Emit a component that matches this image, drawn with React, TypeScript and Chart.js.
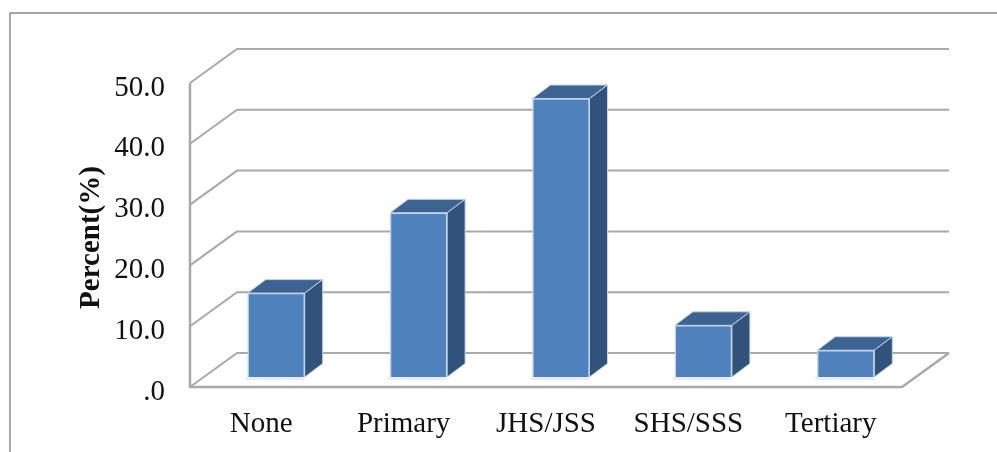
import React, { useEffect, useRef } from "react";
import { Chart, registerables } from "chart.js";

Chart.register(...registerables);

const categories = ["None", "Primary", "JHS/JSS", "SHS/SSS", "Tertiary"];
const percentValues = [13.8, 27.0, 45.8, 8.5, 4.4];
const axisTicks = [0, 10, 20, 30, 40, 50];
const axisTitle = "Percent(%)";

const SERIF = '"Liberation Serif", "Times New Roman", serif';
const INK = "#111";
const GRID = "#a9a9a9";
const FRONT = "#4f81bd";
const TOP = "#3c6391";
const SIDE = "#31527b";
const EDGE = "#c3d3e8";

// Perspective offsets of the floor and of each box
const WALL_DX = 47;
const WALL_DY = 34;
const BAR_DX = 15;
const BAR_DY = 10;
const DEPTH_DX = 18;
const DEPTH_DY = 13.5;

const poly = (ctx: CanvasRenderingContext2D, pts: number[][], fill?: string, stroke?: string, w = 1) => {
  ctx.beginPath();
  pts.forEach(([x, y], i) => (i ? ctx.lineTo(x, y) : ctx.moveTo(x, y)));
  if (fill) {
    ctx.closePath();
    ctx.fillStyle = fill;
    ctx.fill();
  }
  if (stroke) {
    ctx.strokeStyle = stroke;
    ctx.lineWidth = w;
    ctx.lineJoin = "round";
    ctx.stroke();
  }
};

const pseudo3d = {
  id: "pseudo3d",
  beforeDatasetsDraw(chart: any) {
    const { ctx, chartArea, scales } = chart;
    const { left, right, bottom } = chartArea;
    // Outer frame
    poly(ctx, [[10, 452], [10, 13], [997, 13]], undefined, "#8a8a8a", 1.5);
    // Side wall and back wall rules
    for (const t of axisTicks) {
      const y = scales.y.getPixelForValue(t);
      poly(ctx, [[left, y], [left + WALL_DX, y - WALL_DY], [right + WALL_DX, y - WALL_DY]], undefined, GRID, 2);
    }
    // Floor outline and front vertical edge
    poly(ctx, [[left, scales.y.getPixelForValue(50)], [left, bottom], [right, bottom], [right + WALL_DX, bottom - WALL_DY]], undefined, GRID, 2.5);
    // Rotated axis title
    ctx.save();
    ctx.translate(91.5, 237.5);
    ctx.rotate(-Math.PI / 2);
    ctx.font = `bold 29px ${SERIF}`;
    ctx.fillStyle = INK;
    ctx.textAlign = "center";
    ctx.textBaseline = "middle";
    ctx.fillText(axisTitle, 0, 0);
    ctx.restore();
    // Soft contact shadows and the receding box faces
    chart.getDatasetMeta(0).data.forEach((bar: any) => {
      const { x, y, base, width } = bar.getProps(["x", "y", "base", "width"], true);
      const l = x - width / 2 + BAR_DX;
      const r = x + width / 2 + BAR_DX;
      const t = y - BAR_DY;
      const b = base - BAR_DY;
      ctx.fillStyle = "#ececec";
      ctx.fillRect(l - 2, b, width + 2, 3);
      poly(ctx, [[l, t], [l + DEPTH_DX, t - DEPTH_DY], [r + DEPTH_DX, t - DEPTH_DY], [r, t]], TOP, EDGE, 1);
      poly(ctx, [[r, t], [r + DEPTH_DX, t - DEPTH_DY], [r + DEPTH_DX, b - DEPTH_DY], [r, b]], SIDE, EDGE, 1);
    });
  },
  beforeDatasetDraw(chart: any) {
    chart.ctx.save();
    chart.ctx.translate(BAR_DX, -BAR_DY);
  },
  afterDatasetDraw(chart: any) {
    chart.ctx.restore();
  },
};

export default function App() {
  const ref = useRef<HTMLCanvasElement>(null);

  useEffect(() => {
    const chart = new Chart(ref.current!, {
      type: "bar",
      data: {
        labels: categories,
        datasets: [
          {
            data: percentValues,
            backgroundColor: FRONT,
            borderColor: EDGE,
            borderWidth: 1.5,
            barThickness: 57,
          },
        ],
      },
      plugins: [pseudo3d],
      options: {
        responsive: false,
        animation: false,
        layout: { padding: { top: 83, right: 95, bottom: 0, left: 0 } },
        plugins: { legend: { display: false }, tooltip: { enabled: false } },
        scales: {
          x: {
            grid: { display: false },
            border: { display: false },
            ticks: { color: INK, font: { family: SERIF, size: 29 }, padding: 12, maxRotation: 0, autoSkip: false },
            afterFit: (s: any) => { s.height = 65; },
          },
          y: {
            min: 0,
            max: 50,
            grid: { display: false },
            border: { display: false },
            afterBuildTicks: (s: any) => { s.ticks = axisTicks.map((value) => ({ value })); },
            ticks: {
              color: INK,
              font: { family: SERIF, size: 29 },
              padding: 17,
              labelOffset: 5,
              callback: (v: any) => (Number(v) === 0 ? ".0" : Number(v).toFixed(1)),
            },
            afterFit: (s: any) => { s.width = 190; },
          },
        },
      },
    });
    return () => chart.destroy();
  }, []);

  return (
    <div style={{ position: "absolute", left: 0, top: 0, width: 997, height: 452, background: "#fff" }}>
      <canvas ref={ref} width={997} height={452} style={{ display: "block" }} />
    </div>
  );
}
